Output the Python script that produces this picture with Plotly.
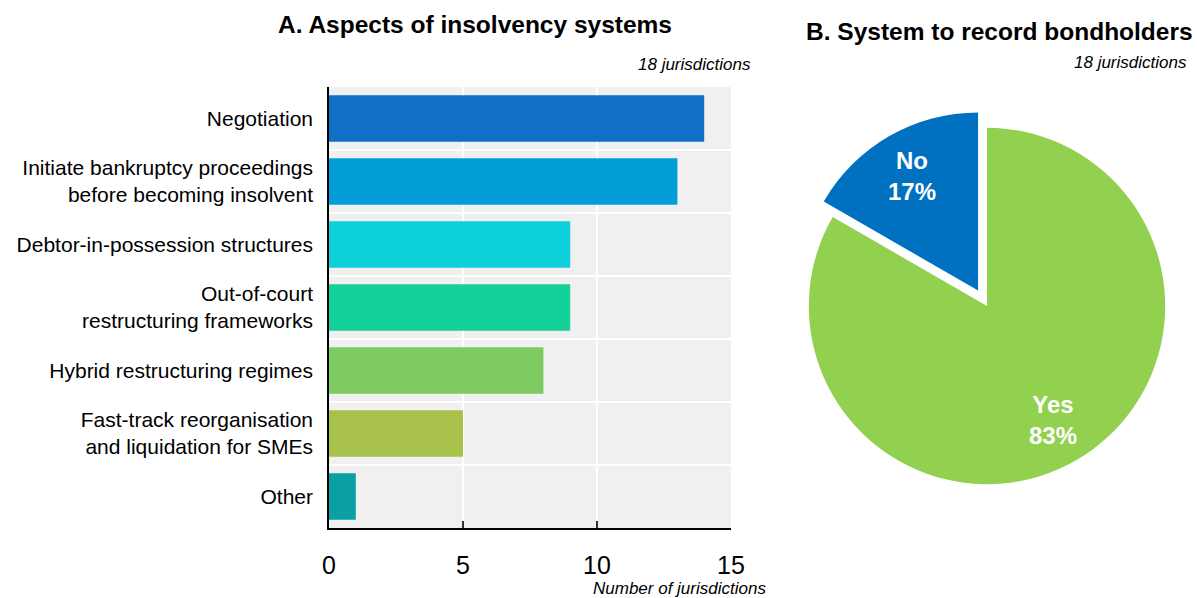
import math
import plotly.graph_objects as go

categories = [
    "Negotiation",
    "Initiate bankruptcy proceedings<br>before becoming insolvent",
    "Debtor-in-possession structures",
    "Out-of-court<br>restructuring frameworks",
    "Hybrid restructuring regimes",
    "Fast-track reorganisation<br>and liquidation for SMEs",
    "Other",
]
values = [14, 13, 9, 9, 8, 5, 1]
bar_colors = ["#0F70C6", "#029ED8", "#0ED0DB", "#14D19A", "#7ECB62", "#A8C14A", "#0A9EA5"]

pie_labels = ["Yes", "No"]
pie_values = [15, 3]
pie_colors = ["#92D050", "#0070C0"]
pie_pull = [0, 0.1]

FONT = "Liberation Sans, Arial, sans-serif"
W, H = 1197, 598

def px_x(x):
    return x / W

def px_y(y):
    return 1 - y / H

fig = go.Figure()
ypos = list(range(len(categories)))
fig.add_trace(go.Bar(
    x=values, y=ypos, orientation="h", width=0.74,
    marker=dict(color=bar_colors, line=dict(width=0)),
    showlegend=False, hoverinfo="x",
))

# pie geometry (pixels)
PX0, PX1, PY0, PY1 = 791, 1183, 110, 502
fig.add_trace(go.Pie(
    labels=pie_labels, values=pie_values, sort=False, direction="clockwise",
    rotation=0, pull=pie_pull,
    marker=dict(colors=pie_colors, line=dict(width=0)),
    textinfo="none",
    domain=dict(x=[px_x(PX0), px_x(PX1)], y=[px_y(PY1), px_y(PY0)]),
    showlegend=False,
))

annotations = [
    dict(text="<b>A. Aspects of insolvency systems</b>", x=px_x(475), y=px_y(25),
         xref="paper", yref="paper", xanchor="center", yanchor="middle",
         showarrow=False, font=dict(size=24.5, family=FONT)),
    dict(text="<i>18 jurisdictions</i>", x=px_x(753), y=px_y(64),
         xref="paper", yref="paper", xanchor="right", yanchor="middle",
         showarrow=False, font=dict(size=17, family=FONT)),
    dict(text="<b>B. System to record bondholders</b>", x=px_x(1195), y=px_y(32),
         xref="paper", yref="paper", xanchor="right", yanchor="middle",
         showarrow=False, font=dict(size=24.5, family=FONT)),
    dict(text="<i>18 jurisdictions</i>", x=px_x(1189), y=px_y(62),
         xref="paper", yref="paper", xanchor="right", yanchor="middle",
         showarrow=False, font=dict(size=17, family=FONT)),
    dict(text="<i>Number of jurisdictions</i>", x=px_x(768), y=px_y(588),
         xref="paper", yref="paper", xanchor="right", yanchor="middle",
         showarrow=False, font=dict(size=17, family=FONT)),
]

# pie slice labels placed along each slice's bisector
cx, cy = (PX0 + PX1) / 2, (PY0 + PY1) / 2
r = (PX1 - PX0) / 2 / (1 + max(pie_pull))
total = sum(pie_values)
start = 0.0
for lab, val, pull in zip(pie_labels, pie_values, pie_pull):
    frac = val / total
    mid = (start + frac / 2) * 2 * math.pi
    start += frac
    dist = r * (pull + 0.74)
    tx = cx + dist * math.sin(mid)
    ty = cy - dist * math.cos(mid)
    annotations.append(dict(
        text=f"<b>{lab}<br>{round(frac * 100)}%</b>", x=px_x(tx), y=px_y(ty),
        xref="paper", yref="paper", xanchor="center", yanchor="middle",
        showarrow=False, align="center",
        font=dict(size=24, family=FONT, color="white"),
    ))

fig.update_layout(
    width=W, height=H,
    margin=dict(l=0, r=0, t=0, b=0),
    paper_bgcolor="white",
    plot_bgcolor="#F0F0F0",
    font=dict(family=FONT, color="black"),
    xaxis=dict(
        domain=[px_x(329), px_x(731)], range=[0, 15], tickvals=[0, 5, 10, 15],
        showgrid=True, gridcolor="white", gridwidth=2,
        showline=True, linecolor="black", linewidth=1.5,
        ticks="inside", ticklen=7, tickcolor="#333333", tickwidth=1.5,
        ticklabelstandoff=14,
        tickfont=dict(size=25, family=FONT), automargin=False, zeroline=False,
        fixedrange=True,
    ),
    yaxis=dict(
        domain=[px_y(528), px_y(87)], range=[6.5, -0.5],
        tickvals=ypos, ticktext=categories, showgrid=False,
        showline=True, linecolor="black", linewidth=1.5,
        ticks="", ticklabelstandoff=10,
        tickfont=dict(size=21, family=FONT), automargin=False, zeroline=False,
        minor=dict(tick0=0.5, dtick=1, showgrid=True, gridcolor="white", gridwidth=2, ticks=""),
        fixedrange=True,
    ),
    annotations=annotations,
)

fig.write_html("out.html")
